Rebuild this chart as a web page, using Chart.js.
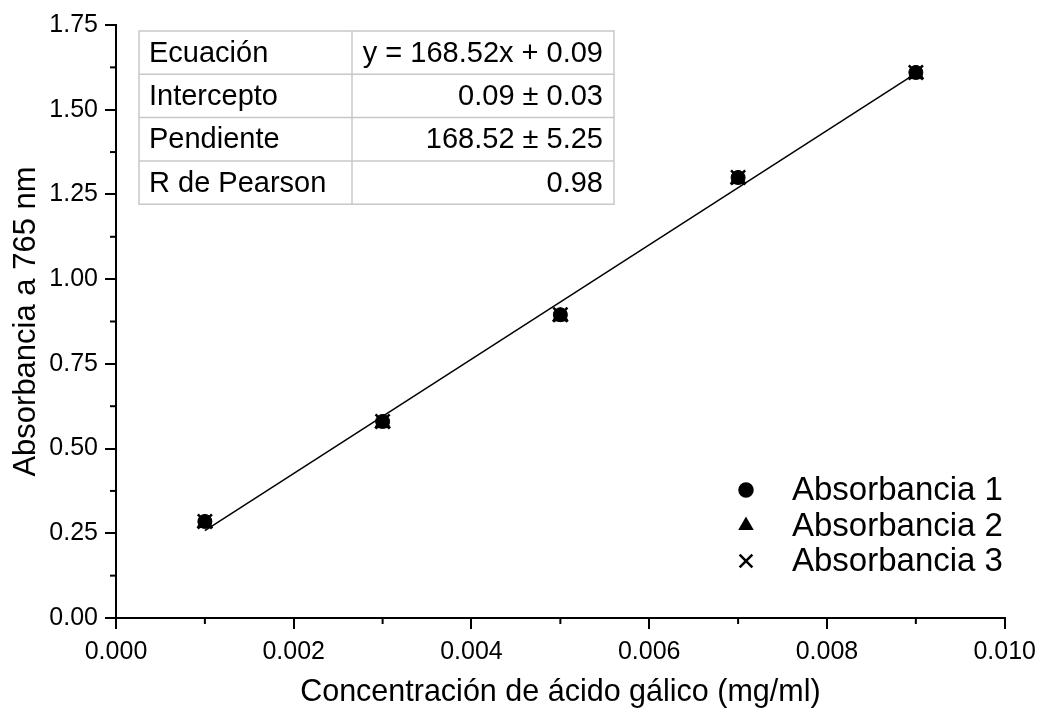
<!DOCTYPE html>
<html>
<head>
<meta charset="utf-8">
<script src="https://cdn.jsdelivr.net/npm/chart.js@4.4.1/dist/chart.umd.min.js"></script>
<style>
  body { margin: 0; background: #fff; }
  #box { width: 1044px; height: 711px; }
</style>
</head>
<body>
<div id="box"><canvas id="myChart" width="1044" height="711"></canvas></div>
<script>
// concentration of gallic acid (mg/ml)
var conc = [0.001, 0.003, 0.005, 0.007, 0.009];
var abs1 = [0.285, 0.580, 0.895, 1.300, 1.610];
var abs2 = [0.280, 0.575, 0.890, 1.295, 1.605];
var abs3 = [0.285, 0.580, 0.895, 1.300, 1.610];
var seriesNames = ['Absorbancia 1', 'Absorbancia 2', 'Absorbancia 3'];

// fitted line ends
var fitX = [0.001, 0.009];
var fitY = [0.258, 1.607];

var tableLabels = ['Ecuación', 'Intercepto', 'Pendiente', 'R de Pearson'];
var tableValues = ['y = 168.52x + 0.09', '0.09 ± 0.03', '168.52 ± 5.25', '0.98'];

var xTicks = [0, 0.002, 0.004, 0.006, 0.008, 0.010];
var yTicks = [0, 0.25, 0.5, 0.75, 1.0, 1.25, 1.5, 1.75];

var FONT = "'Liberation Sans', Arial, sans-serif";

function pts(xs, ys) {
    var out = [];
    for (var i = 0; i < xs.length; i++) out.push({x: xs[i], y: ys[i]});
    return out;
}

// minor ticks, the table and the legend
var extras = {
    id: 'extras',
    afterDraw: function(chart) {
        var ctx = chart.ctx;
        var xs = chart.scales.x, ys = chart.scales.y;
        var a = chart.chartArea;
        ctx.save();
        ctx.strokeStyle = '#000';
        ctx.lineWidth = 2;
        // minor ticks halfway between majors
        for (var i = 0; i < xTicks.length - 1; i++) {
            var px = xs.getPixelForValue((xTicks[i] + xTicks[i + 1]) / 2);
            ctx.beginPath(); ctx.moveTo(px, a.bottom); ctx.lineTo(px, a.bottom + 6); ctx.stroke();
        }
        for (var j = 0; j < yTicks.length - 1; j++) {
            var py = ys.getPixelForValue((yTicks[j] + yTicks[j + 1]) / 2);
            ctx.beginPath(); ctx.moveTo(a.left, py); ctx.lineTo(a.left - 6, py); ctx.stroke();
        }

        // table
        var tl = a.left + 23, tt = a.top + 6, tw = 475, rh = 43.3, cdiv = 213;
        ctx.fillStyle = '#fff';
        ctx.fillRect(tl, tt, tw, rh * 4);
        ctx.strokeStyle = '#c8c8c8';
        ctx.lineWidth = 1.5;
        ctx.strokeRect(tl, tt, tw, rh * 4);
        for (var r = 1; r < 4; r++) {
            ctx.beginPath(); ctx.moveTo(tl, tt + rh * r); ctx.lineTo(tl + tw, tt + rh * r); ctx.stroke();
        }
        ctx.beginPath(); ctx.moveTo(tl + cdiv, tt); ctx.lineTo(tl + cdiv, tt + rh * 4); ctx.stroke();
        ctx.fillStyle = '#000';
        ctx.font = '29px ' + FONT;
        ctx.textBaseline = 'middle';
        for (var k = 0; k < tableLabels.length; k++) {
            var cy = tt + rh * k + rh / 2 + 1;
            ctx.textAlign = 'left';
            ctx.fillText(tableLabels[k], tl + 10, cy);
            ctx.textAlign = 'right';
            ctx.fillText(tableValues[k], tl + tw - 11, cy);
        }

        // legend
        var styles = ['circle', 'triangle', 'crossRot'];
        var radii = [6.5, 6.5, 9];
        var lx = 746, ly = 490, lgap = 35.5;
        ctx.font = '33px ' + FONT;
        ctx.textAlign = 'left';
        for (var s = 0; s < seriesNames.length; s++) {
            var yy = ly + lgap * s;
            ctx.fillStyle = '#000';
            ctx.strokeStyle = '#000';
            ctx.lineWidth = 2.5;
            Chart.helpers.drawPoint(ctx, {pointStyle: styles[s], radius: radii[s], borderWidth: 2.5}, lx, yy);
            ctx.fillText(seriesNames[s], 792, yy + 1);
        }
        ctx.restore();
    }
};

var ctx = document.getElementById('myChart').getContext('2d');
var myChart = new Chart(ctx, {
    type: 'scatter',
    data: {
        datasets: [{
            type: 'line',
            label: 'ajuste',
            data: pts(fitX, fitY),
            borderColor: '#000',
            borderWidth: 1.5,
            pointRadius: 0,
            fill: false
        }, {
            label: seriesNames[0],
            data: pts(conc, abs1),
            pointStyle: 'circle',
            pointRadius: 7,
            backgroundColor: '#000',
            borderColor: '#000'
        }, {
            label: seriesNames[1],
            data: pts(conc, abs2),
            pointStyle: 'triangle',
            pointRadius: 9,
            backgroundColor: '#000',
            borderColor: '#000'
        }, {
            label: seriesNames[2],
            data: pts(conc, abs3),
            pointStyle: 'crossRot',
            pointRadius: 10,
            borderWidth: 2.5,
            backgroundColor: '#000',
            borderColor: '#000'
        }]
    },
    plugins: [extras],
    options: {
        responsive: false,
        animation: false,
        layout: { padding: { top: 25, right: 38, left: 0, bottom: 0 } },
        plugins: {
            legend: { display: false },
            tooltip: { enabled: false }
        },
        scales: {
            x: {
                type: 'linear',
                min: 0,
                max: 0.01,
                afterFit: function(s) { s.height = 93; },
                afterBuildTicks: function(s) { s.ticks = xTicks.map(function(v) { return {value: v}; }); },
                ticks: {
                    color: '#000',
                    padding: 8,
                    font: { family: FONT, size: 25 },
                    callback: function(v) { return v.toFixed(3); }
                },
                grid: { drawOnChartArea: false, color: '#000', lineWidth: 2, tickLength: 11 },
                border: { color: '#000', width: 2 },
                title: {
                    display: true,
                    text: 'Concentración de ácido gálico (mg/ml)',
                    color: '#000',
                    font: { family: FONT, size: 30.5 },
                    padding: { top: 5, bottom: 0 }
                }
            },
            y: {
                type: 'linear',
                min: 0,
                max: 1.75,
                afterFit: function(s) { s.width = 116; },
                afterBuildTicks: function(s) { s.ticks = yTicks.map(function(v) { return {value: v}; }); },
                ticks: {
                    color: '#000',
                    padding: 7,
                    font: { family: FONT, size: 25 },
                    callback: function(v) { return v.toFixed(2); }
                },
                grid: { drawOnChartArea: false, color: '#000', lineWidth: 2, tickLength: 11 },
                border: { color: '#000', width: 2 },
                title: {
                    display: true,
                    text: 'Absorbancia a 765 nm',
                    color: '#000',
                    font: { family: FONT, size: 31 },
                    padding: { top: 8, bottom: 0 }
                }
            }
        }
    }
});
</script>
</body>
</html>
